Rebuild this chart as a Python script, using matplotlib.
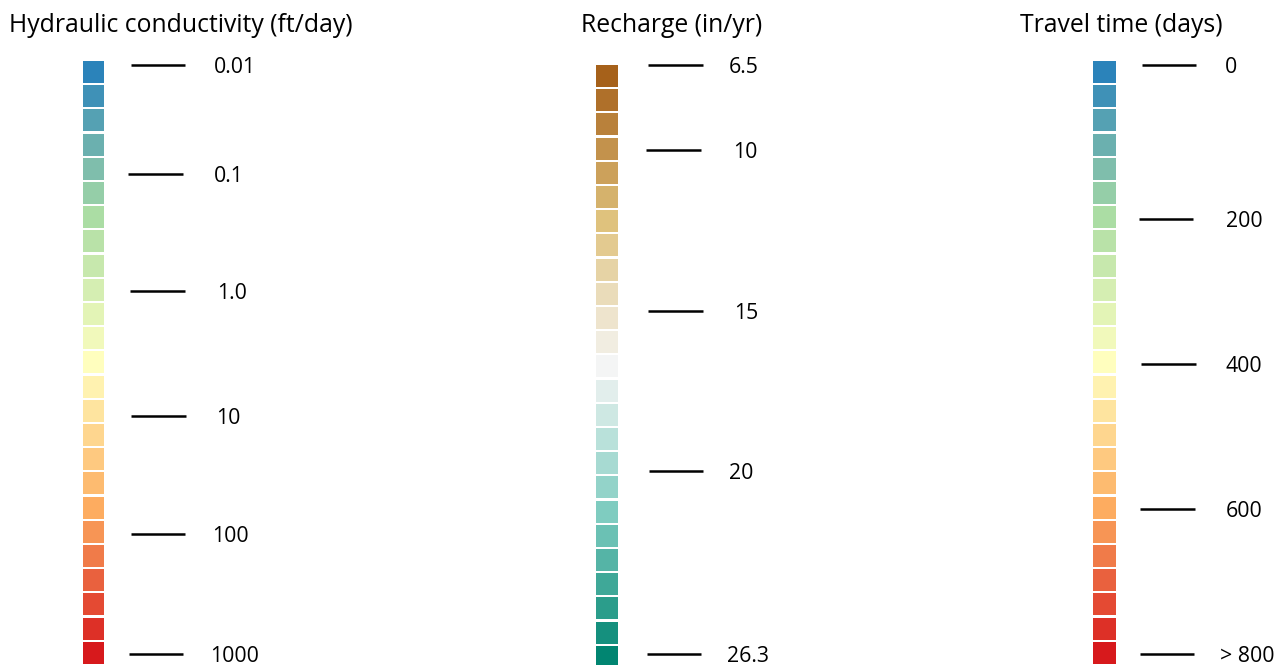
import numpy as np
import matplotlib
matplotlib.use("Agg")
import matplotlib.pyplot as plt
from matplotlib.colors import LinearSegmentedColormap

# Legend content
n_classes = 25
hk_title = "Hydraulic conductivity (ft/day)"
hk_labels = ["0.01", "0.1", "1.0", "10", "100", "1000"]
recharge_title = "Recharge (in/yr)"
recharge_labels = ["6.5", "10", "15", "20", "26.3"]
travel_title = "Travel time (days)"
travel_labels = ["0", "200", "400", "600", "> 800"]

spectral_anchors = ["#2b83ba", "#abdda4", "#ffffbf", "#fdae61", "#d7191c"]
brbg_anchors = ["#a6611a", "#dfc27d", "#f5f5f5", "#80cdc1", "#018571"]

# Layout (pixel space of the figure)
W, H = 1287, 665
FONT = "Open Sans"
columns = [
    dict(title=hk_title, title_x=9, labels=hk_labels, anchors=spectral_anchors,
         sw_x=83, sw_w=21, sw_top=61,
         tick_y=[65, 174, 291, 416, 534, 654],
         line_x=[(131, 185), (128, 183), (130, 185), (131, 186), (131, 185), (129, 183)],
         text_x=[214, 214, 217, 216, 212, 210]),
    dict(title=recharge_title, title_x=581, labels=recharge_labels, anchors=brbg_anchors,
         sw_x=596, sw_w=22, sw_top=65,
         tick_y=[65, 150, 311, 471, 654],
         line_x=[(648, 703), (646, 701), (648, 703), (649, 703), (647, 701)],
         text_x=[729, 733, 734, 729, 727]),
    dict(title=travel_title, title_x=1020, labels=travel_labels, anchors=spectral_anchors,
         sw_x=1093, sw_w=23, sw_top=61,
         tick_y=[65, 219, 364, 509, 654],
         line_x=[(1142, 1196), (1139, 1193), (1141, 1196), (1140, 1195), (1140, 1194)],
         text_x=[1225, 1226, 1226, 1226, 1220]),
]
pitch = 24.2
sw_h = 22

fig = plt.figure(figsize=(W / 100, H / 100), dpi=100)
ax = fig.add_axes([0, 0, 1, 1])
ax.set_xlim(0, W)
ax.set_ylim(H, 0)
ax.axis("off")

for col in columns:
    cmap = LinearSegmentedColormap.from_list("c", col["anchors"])
    colors = cmap(np.linspace(0, 1, n_classes))
    idx = np.arange(n_classes)
    ax.bar(col["sw_x"] + col["sw_w"] / 2, sw_h, width=col["sw_w"],
           bottom=col["sw_top"] + idx * pitch, color=colors, edgecolor="none")
    ax.text(col["title_x"], 25, col["title"], fontsize=17.8, family=FONT,
            va="center", ha="left", color="black")
    for lab, y, (x0, x1), tx in zip(col["labels"], col["tick_y"], col["line_x"], col["text_x"]):
        ax.plot([x0, x1], [y, y], color="black", lw=1.8, solid_capstyle="butt")
        ax.text(tx, y + 2.5, lab, fontsize=15.3, family=FONT, va="center", ha="left",
                color="black")

fig.savefig("out.png", dpi=100, facecolor="white")
